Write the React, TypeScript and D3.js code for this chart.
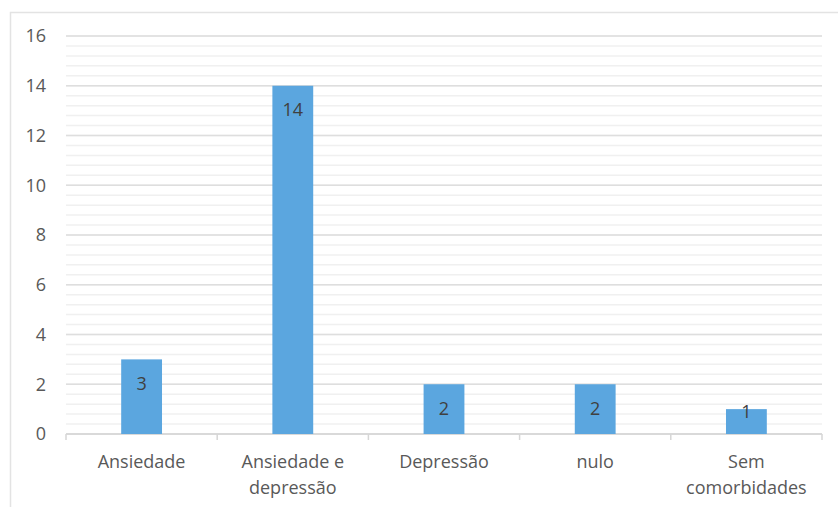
import React from "react";
import * as d3 from "d3";

const categories: string[][] = [
  ["Ansiedade"],
  ["Ansiedade e", "depressão"],
  ["Depressão"],
  ["nulo"],
  ["Sem", "comorbidades"],
];
const values: number[] = [3, 14, 2, 2, 1];
const yTicks: number[] = [0, 2, 4, 6, 8, 10, 12, 14, 16];
const minorTicks: number[] = d3.range(0, 16.001, 0.4);

const W = 838;
const H = 507;
const left = 66;
const right = 822;
const top = 36;
const bottom = 434;
const FONT = "'Open Sans', sans-serif";

export default function App() {
  const x = d3
    .scaleBand<number>()
    .domain(values.map((_, i) => i))
    .range([left, right])
    .paddingInner(0)
    .paddingOuter(0);
  const y = d3.scaleLinear().domain([0, 16]).range([bottom, top]);
  const bw = x.bandwidth() * 0.27;
  const boundaries = d3.range(0, values.length + 1).map((i) => left + i * x.step());

  return (
    <svg width={W} height={H} style={{ position: "absolute", left: 0, top: 0 }}>
      <rect x={0} y={0} width={W} height={H} fill="#fff" />
      <path d={`M10.5,${H} V12.5 H${W}`} fill="none" stroke="#e3e3e3" strokeWidth={1.5} />
      {minorTicks.map((t, i) => (
        <line key={"m" + i} x1={left} x2={right} y1={y(t)} y2={y(t)} stroke="#f0f0f0" strokeWidth={1.5} />
      ))}
      {yTicks.map((t) => (
        <line key={"g" + t} x1={left} x2={right} y1={y(t)} y2={y(t)} stroke="#dedede" strokeWidth={1.5} />
      ))}
      {yTicks.map((t) => (
        <text key={"yl" + t} x={46} y={y(t)} dy="0.35em" textAnchor="end" fontFamily={FONT} fontSize={18} fill="#595959">
          {t}
        </text>
      ))}
      <line x1={left} x2={right} y1={bottom} y2={bottom} stroke="#d6d6d6" strokeWidth={1.5} />
      {boundaries.map((bx, i) => (
        <line key={"t" + i} x1={bx} x2={bx} y1={bottom} y2={bottom + 6} stroke="#d6d6d6" strokeWidth={1.5} />
      ))}
      {values.map((v, i) => {
        const cx = (x(i) as number) + x.bandwidth() / 2;
        const yt = y(v);
        const bh = y(0) - yt;
        const off = Math.min(24, Math.max(3, bh - 22));
        return (
          <g key={"b" + i}>
            <rect x={cx - bw / 2} y={yt} width={bw} height={bh} fill="#5ba6df" />
            <text x={cx} y={yt + off} dy="0.35em" textAnchor="middle" fontFamily={FONT} fontSize={18} fill="#404040">
              {v}
            </text>
          </g>
        );
      })}
      {categories.map((lines, i) => {
        const cx = (x(i) as number) + x.bandwidth() / 2;
        return (
          <text key={"c" + i} textAnchor="middle" fontFamily={FONT} fontSize={18} fill="#595959">
            {lines.map((l, j) => (
              <tspan key={j} x={cx} y={462 + j * 26} dy="0.35em">
                {l}
              </tspan>
            ))}
          </text>
        );
      })}
    </svg>
  );
}
